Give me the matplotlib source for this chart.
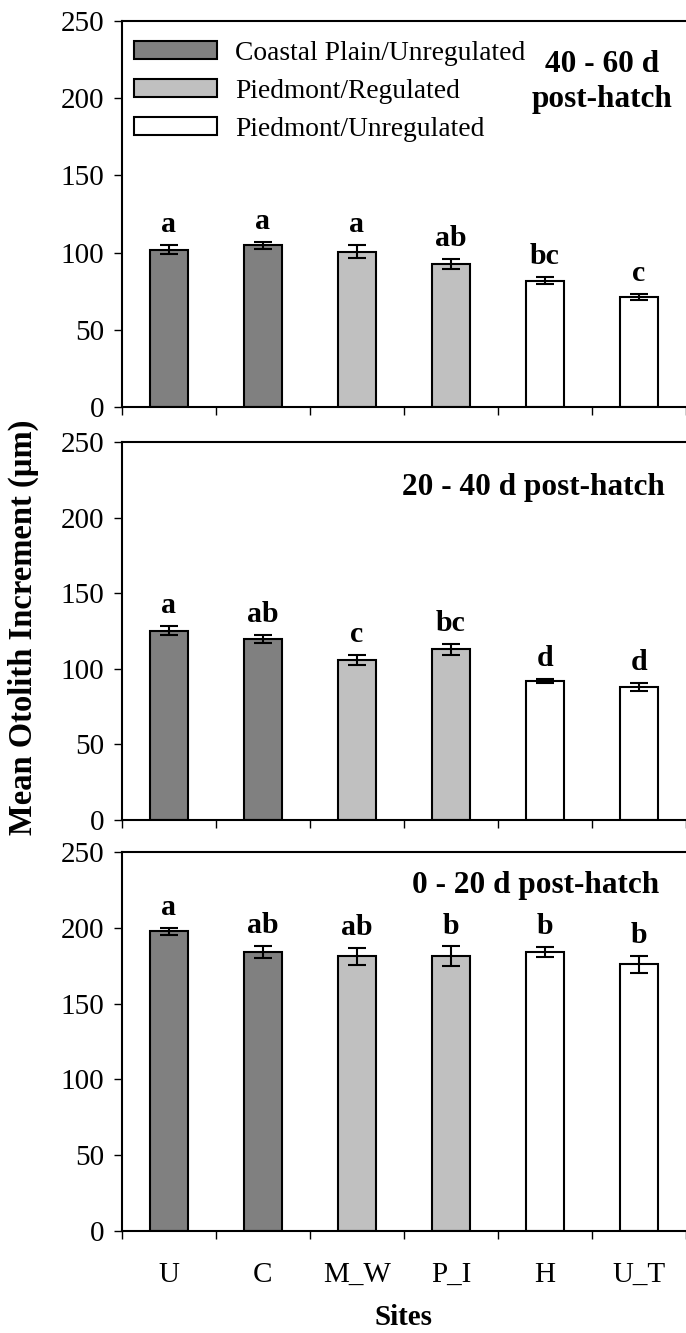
import matplotlib
matplotlib.use("Agg")
import matplotlib.pyplot as plt
import numpy as np

plt.rcParams["font.family"] = ["Liberation Serif", "DejaVu Serif"]

sites = ["U", "C", "M_W", "P_I", "H", "U_T"]
groups = ["Coastal Plain/Unregulated", "Piedmont/Regulated", "Piedmont/Unregulated"]
group_of_site = [0, 0, 1, 1, 2, 2]
group_colors = ["#808080", "#c0c0c0", "#ffffff"]

periods = ["40 - 60 d\npost-hatch", "20 - 40 d post-hatch", "0 - 20 d post-hatch"]

mean_40_60 = [102.0, 104.6, 100.7, 92.5, 81.8, 71.3]
se_40_60 = [2.8, 2.2, 4.1, 3.3, 2.2, 2.0]
letters_40_60 = ["a", "a", "a", "ab", "bc", "c"]

mean_20_40 = [125.2, 119.5, 105.8, 112.8, 92.0, 88.0]
se_20_40 = [2.9, 2.7, 3.5, 3.6, 1.5, 2.8]
letters_20_40 = ["a", "ab", "c", "bc", "d", "d"]

mean_0_20 = [197.6, 184.0, 181.3, 181.3, 184.0, 175.9]
se_0_20 = [2.1, 4.2, 5.6, 6.4, 3.5, 5.5]
letters_0_20 = ["a", "ab", "ab", "b", "b", "b"]

means = [mean_40_60, mean_20_40, mean_0_20]
errs = [se_40_60, se_20_40, se_0_20]
letters = [letters_40_60, letters_20_40, letters_0_20]

W, H = 686, 1333
fig = plt.figure(figsize=(W / 100, H / 100), dpi=100)

# panel extents in pixels (top, bottom)
panel_px = [(21, 407), (442, 820), (852, 1231)]
left_px = 122
title_pos = [(602, 82), (533, 487), (536, 885)]

x = np.arange(len(sites))
for i, (top, bot) in enumerate(panel_px):
    ax = fig.add_axes([left_px / W, 1 - bot / H, 1 - left_px / W, (bot - top) / H])
    vals = np.array(means[i])
    err = np.array(errs[i])
    for g, name in enumerate(groups):
        idx = [k for k in range(len(sites)) if group_of_site[k] == g]
        ax.bar(x[idx], vals[idx], width=0.41, color=group_colors[g],
               edgecolor="black", linewidth=1.5, label=name, zorder=2)
    ax.errorbar(x, vals, yerr=err, fmt="none", ecolor="black",
                elinewidth=1.5, capsize=6.5, capthick=1.5, zorder=3)
    for k in range(len(sites)):
        ax.annotate(letters[i][k], (x[k], vals[k] + err[k]),
                    xytext=(0, 5), textcoords="offset points",
                    ha="center", va="bottom", fontsize=21.5, fontweight="bold")

    ax.set_xlim(-0.5, 5.5)
    ax.set_ylim(0, 250)
    ax.set_yticks(np.arange(0, 251, 50))
    ax.set_xticks(np.arange(-0.5, 5.6, 1.0))
    ax.set_xticklabels([])
    ax.tick_params(axis="both", which="major", direction="out", length=6,
                   width=1.0, labelsize=21, pad=7)
    ax.spines["right"].set_visible(False)
    for s in ["left", "bottom", "top"]:
        ax.spines[s].set_linewidth(1.5)

    tx, ty = title_pos[i]
    fig.text(tx / W, 1 - ty / H, periods[i], ha="center", va="center",
             fontsize=22.5, fontweight="bold", linespacing=1.25)

    if i == 0:
        ax.legend(loc="upper left", bbox_to_anchor=(12 / 564, 1 - 20 / 386),
                  frameon=False, fontsize=19.8, handlelength=3.0,
                  handleheight=0.62, handletextpad=0.68, labelspacing=0.47,
                  borderpad=0, borderaxespad=0)
    if i == 2:
        ax.set_xticks(x, minor=True)
        ax.set_xticklabels(sites, minor=True)
        ax.tick_params(axis="x", which="minor", length=0, labelsize=21, pad=22)
        ax.set_xlabel("Sites", fontsize=21, fontweight="bold", labelpad=12)

fig.text(23 / W, 1 - 627 / H, "Mean Otolith Increment (\u00b5m)", rotation=90,
         ha="center", va="center", fontsize=23.5, fontweight="bold")

fig.savefig("out.png", dpi=100)
